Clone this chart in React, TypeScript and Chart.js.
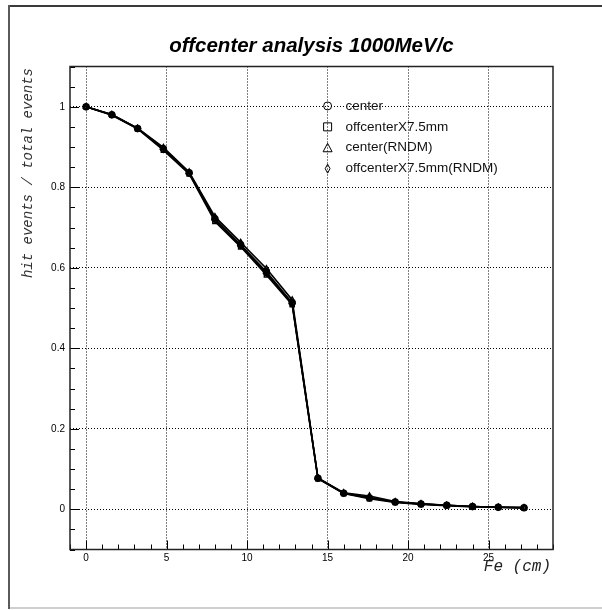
import React, { useEffect, useRef } from "react";
import { Chart, registerables } from "chart.js";

Chart.register(...registerables);

// ---- data ----
const xValues = [0, 1.6, 3.2, 4.8, 6.4, 8.0, 9.6, 11.2, 12.8, 14.4, 16.0, 17.6, 19.2, 20.8, 22.4, 24.0, 25.6, 27.2];
const centerValues = [1.0, 0.980, 0.946, 0.896, 0.836, 0.722, 0.657, 0.590, 0.513, 0.077, 0.040, 0.028, 0.018, 0.013, 0.010, 0.007, 0.005, 0.004];
const offcenterValues = [1.0, 0.979, 0.945, 0.892, 0.833, 0.715, 0.652, 0.582, 0.508, 0.076, 0.039, 0.026, 0.017, 0.012, 0.009, 0.006, 0.005, 0.003];
const centerRndmValues = [1.0, 0.981, 0.947, 0.899, 0.838, 0.727, 0.663, 0.598, 0.520, 0.078, 0.041, 0.033, 0.019, 0.014, 0.010, 0.007, 0.005, 0.004];
const offcenterRndmValues = [1.0, 0.980, 0.946, 0.894, 0.835, 0.719, 0.655, 0.586, 0.511, 0.077, 0.040, 0.029, 0.018, 0.013, 0.010, 0.007, 0.005, 0.004];
const seriesLabels = ["center", "offcenterX7.5mm", "center(RNDM)", "offcenterX7.5mm(RNDM)"];
const xTickValues = [0, 5, 10, 15, 20, 25];
const yTickValues = [0, 0.2, 0.4, 0.6, 0.8, 1];
const titleText = "offcenter analysis 1000MeV/c";
const xTitleText = "Fe (cm)";
const yTitleText = "hit events / total events";

const SANS = '"Liberation Sans", Arial, Helvetica, sans-serif';
const MONO = '"Liberation Mono", "DejaVu Sans Mono", monospace';

const markerStyles = ["circle", "rect", "triangle", "rectRot"];

function drawMarker(ctx: CanvasRenderingContext2D, style: string, x: number, y: number, r: number) {
  ctx.beginPath();
  if (style === "circle") {
    ctx.arc(x, y, r, 0, Math.PI * 2);
  } else if (style === "rect") {
    ctx.rect(x - r, y - r, 2 * r, 2 * r);
  } else if (style === "triangle") {
    ctx.moveTo(x, y - r - 0.5);
    ctx.lineTo(x + r + 0.5, y + r);
    ctx.lineTo(x - r - 0.5, y + r);
    ctx.closePath();
  } else {
    ctx.moveTo(x, y - r - 0.5);
    ctx.lineTo(x + r * 0.6, y);
    ctx.lineTo(x, y + r + 0.5);
    ctx.lineTo(x - r * 0.6, y);
    ctx.closePath();
  }
  ctx.stroke();
}

const rootDecor = {
  id: "rootDecor",
  beforeDraw(chart: any) {
    const ctx = chart.ctx as CanvasRenderingContext2D;
    ctx.save();
    ctx.fillStyle = "#ffffff";
    ctx.fillRect(0, 0, chart.width, chart.height);
    // outer canvas frame (ROOT bevel)
    ctx.fillStyle = "#cfcfcf";
    ctx.fillRect(8, 607, 594, 2);
    ctx.fillStyle = "#3a3a3a";
    ctx.fillRect(8, 5, 594, 2);
    ctx.fillStyle = "#5a5a5a";
    ctx.fillRect(8, 5, 2, 604);
    ctx.restore();
  },
  afterDraw(chart: any) {
    const ctx = chart.ctx as CanvasRenderingContext2D;
    const area = chart.chartArea;
    const xs = chart.scales.x;
    const ys = chart.scales.y;
    ctx.save();

    // tick marks (inside the frame)
    ctx.strokeStyle = "#000";
    ctx.lineWidth = 1;
    for (let v = -1; v <= 29; v++) {
      const px = Math.round(xs.getPixelForValue(v)) + 0.5;
      const len = v % 5 === 0 ? 9 : 5;
      ctx.beginPath();
      ctx.moveTo(px, area.bottom);
      ctx.lineTo(px, area.bottom - len);
      ctx.stroke();
    }
    for (let k = -2; k <= 22; k++) {
      const v = k * 0.05;
      const py = Math.round(ys.getPixelForValue(v)) + 0.5;
      const len = k % 4 === 0 ? 9 : 5;
      ctx.beginPath();
      ctx.moveTo(area.left, py);
      ctx.lineTo(area.left + len, py);
      ctx.stroke();
    }

    // plot frame
    ctx.strokeStyle = "#222";
    ctx.lineWidth = 1.5;
    ctx.strokeRect(area.left, area.top, area.right - area.left, area.bottom - area.top);

    // title
    ctx.fillStyle = "#000";
    ctx.font = `italic bold 20.5px ${SANS}`;
    ctx.textAlign = "center";
    ctx.textBaseline = "alphabetic";
    ctx.fillText(titleText, (area.left + area.right) / 2, 52);

    // x axis title
    ctx.fillStyle = "#222";
    ctx.font = `italic 16px ${MONO}`;
    ctx.textAlign = "right";
    ctx.textBaseline = "middle";
    ctx.fillText(xTitleText, area.right - 2, 567);

    // y axis title
    ctx.save();
    ctx.translate(28, area.top + 1.5);
    ctx.rotate(-Math.PI / 2);
    ctx.font = `italic 14px ${MONO}`;
    ctx.textAlign = "right";
    ctx.textBaseline = "middle";
    ctx.fillStyle = "#333";
    ctx.fillText(yTitleText, 0, 0);
    ctx.restore();

    // legend (no box, drawn over the grid)
    const lx = xs.getPixelForValue(15);
    const ly0 = ys.getPixelForValue(1) - 0.8;
    const dy = 20.9;
    ctx.font = `13.5px ${SANS}`;
    ctx.textAlign = "left";
    ctx.textBaseline = "middle";
    for (let i = 0; i < seriesLabels.length; i++) {
      const yy = ly0 + i * dy;
      ctx.strokeStyle = "#000";
      ctx.lineWidth = 1;
      drawMarker(ctx, markerStyles[i], lx, yy, 4);
      ctx.fillStyle = "#111";
      ctx.fillText(seriesLabels[i], lx + 18, yy);
    }
    ctx.restore();
  },
};

export default function App() {
  const canvasRef = useRef<HTMLCanvasElement | null>(null);

  useEffect(() => {
    const canvas = canvasRef.current;
    if (!canvas) return;
    const seriesValues = [centerValues, offcenterValues, centerRndmValues, offcenterRndmValues];
    const datasets = seriesValues.map((vals, i) => ({
      label: seriesLabels[i],
      data: xValues.map((x, j) => ({ x, y: vals[j] })),
      borderColor: "#000",
      borderWidth: 1.6,
      pointStyle: markerStyles[i],
      pointRadius: 3,
      pointBorderWidth: 1.4,
      pointBorderColor: "#000",
      pointBackgroundColor: "rgba(0,0,0,0.25)",
      fill: false,
      tension: 0,
    }));

    const chart = new Chart(canvas, {
      type: "line",
      data: { datasets } as any,
      plugins: [rootDecor],
      options: {
        responsive: false,
        animation: false,
        devicePixelRatio: 1,
        events: [],
        layout: { padding: { left: 0, right: 49, top: 66.5, bottom: 30.5 } },
        plugins: {
          legend: { display: false },
          title: { display: false },
          tooltip: { enabled: false },
        },
        scales: {
          x: {
            type: "linear",
            min: -1,
            max: 29,
            afterBuildTicks: (axis: any) => {
              axis.ticks = xTickValues.map((value) => ({ value }));
            },
            afterFit: (scale: any) => {
              scale.height = 30;
            },
            grid: { color: "#000", lineWidth: 1, drawTicks: false },
            border: { display: false, dash: [1, 2] },
            ticks: {
              color: "#000",
              font: { family: SANS, size: 10 },
              padding: 3,
              maxRotation: 0,
              autoSkip: false,
              callback: (v: any) => String(v),
            },
          },
          y: {
            type: "linear",
            min: -0.1,
            max: 1.1,
            afterBuildTicks: (axis: any) => {
              axis.ticks = yTickValues.map((value) => ({ value }));
            },
            afterFit: (scale: any) => {
              scale.width = 70;
            },
            grid: { color: "#000", lineWidth: 1, drawTicks: false },
            border: { display: false, dash: [1, 2] },
            ticks: {
              color: "#000",
              font: { family: SANS, size: 10 },
              padding: 5,
              autoSkip: false,
              callback: (v: any) => String(Math.round(Number(v) * 10) / 10),
            },
          },
        },
      } as any,
    });

    let cancelled = false;
    const fonts = (document as any).fonts;
    if (fonts && fonts.load) {
      Promise.all([
        fonts.load(`italic bold 20px "Liberation Sans"`),
        fonts.load(`10px "Liberation Sans"`),
        fonts.load(`italic 14px "Liberation Mono"`),
      ])
        .then(() => {
          if (!cancelled) chart.update();
        })
        .catch(() => {});
    }

    return () => {
      cancelled = true;
      chart.destroy();
    };
  }, []);

  return (
    <div style={{ position: "absolute", left: 0, top: 0, width: 602, height: 610, background: "#fff" }}>
      <canvas ref={canvasRef} width={602} height={610} style={{ display: "block", width: 602, height: 610 }} />
    </div>
  );
}
